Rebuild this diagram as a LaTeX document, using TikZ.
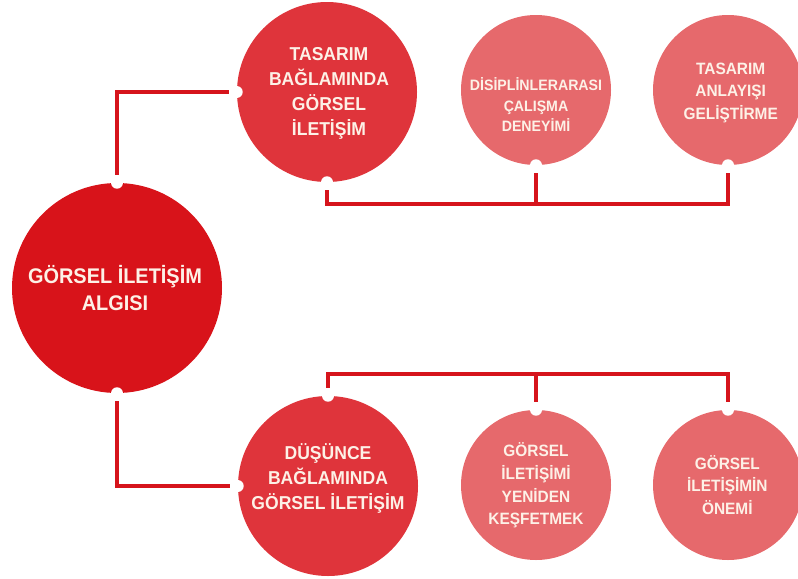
\documentclass[tikz,border=0pt]{standalone}
\usepackage{fontspec}
\setmainfont{Liberation Sans}[FakeStretch=0.94]
\definecolor{cmain}{HTML}{D8131A}
\definecolor{cmid}{HTML}{DF343B}
\definecolor{clight}{HTML}{E6696C}
\definecolor{cline}{HTML}{D6141C}
\definecolor{ctext}{HTML}{FDF1E7}
\begin{document}
\begin{tikzpicture}[x=0.75pt,y=-0.75pt,
  bubble/.style={circle,inner sep=0pt,draw=none},
  mainbubble/.style={bubble,fill=cmain,minimum size=157.5pt},
  midbubble/.style={bubble,fill=cmid,minimum size=135pt},
  leafbubble/.style={bubble,fill=clight,minimum size=112.5pt},
  lbl/.style={text=ctext,align=center,inner sep=0pt},
  mainlbl/.style={lbl,font=\fontsize{15.9}{20}\selectfont\bfseries},
  midlbl/.style={lbl,font=\fontsize{14}{18.75}\selectfont\bfseries},
  leaflbl/.style={lbl,font=\fontsize{12.3}{17}\selectfont\bfseries},
  link/.style={draw=cline,line width=2.4pt},
  bothends/.style={link,shorten <=6pt,shorten >=6pt},
  startend/.style={link,shorten <=6pt},
  notch/.style={fill=white,draw=none}
]
\useasboundingbox (0,0) rectangle (798,578);
\clip (0,0) rectangle (798,578);

% bubbles
\node[mainbubble] (c0) at (117,288) {};
\node[midbubble]  (c1) at (327,92)  {};
\node[midbubble]  (c2) at (328,486) {};
\node[leafbubble] (c3) at (536,90)  {};
\node[leafbubble] (c4) at (728,90)  {};
\node[leafbubble] (c5) at (536,485) {};
\node[leafbubble] (c6) at (728,485) {};

% labels
\node[mainlbl] (t0) at ([xshift=-1.5pt]c0) {GÖRSEL İLETİŞİM\\ALGISI};
\node[midlbl]  (t1) at ([xshift=1.5pt,yshift=-1pt]c1) {TASARIM\\BAĞLAMINDA\\GÖRSEL\\İLETİŞİM};
\node[midlbl]  (t2) at ([yshift=6pt]c2) {DÜŞÜNCE\\BAĞLAMINDA\\GÖRSEL İLETİŞİM};
\node[lbl,font=\fontsize{11.3}{15.5}\selectfont\bfseries] (t3) at ([yshift=-11pt]c3) {DİSİPLİNLERARASI\\ÇALIŞMA\\DENEYİMİ};
\node[leaflbl] (t4) at ([xshift=2pt,yshift=-2pt]c4) {TASARIM\\ANLAYIŞI\\GELİŞTİRME};
\node[leaflbl] (t5) at ([yshift=-0.5pt]c5) {GÖRSEL\\İLETİŞİMİ\\YENİDEN\\KEŞFETMEK};
\node[leaflbl] (t6) at ([xshift=-0.5pt]c6) {GÖRSEL\\İLETİŞİMİN\\ÖNEMİ};

% bus coordinates
\coordinate (bus1) at (0,204);
\coordinate (bus2) at (0,374);

% connectors
\draw[bothends] (c0.north) |- (c1.west);
\draw[bothends] (c0.south) |- (c2.west);
\draw[bothends] (c1.south) |- (c4.south |- bus1) -- (c4.south);
\draw[startend] (c3.south) -- (c3.south |- bus1);
\draw[bothends] (c2.north) |- (c6.north |- bus2) -- (c6.north);
\draw[startend] (c5.north) -- (c5.north |- bus2);

% notches
\foreach \a in {c0.north,c0.south,c1.west,c1.south,c2.west,c2.north,c3.south,c4.south,c5.north,c6.north}
  \fill[notch] (\a) circle[radius=4.5pt];
\end{tikzpicture}
\end{document}
